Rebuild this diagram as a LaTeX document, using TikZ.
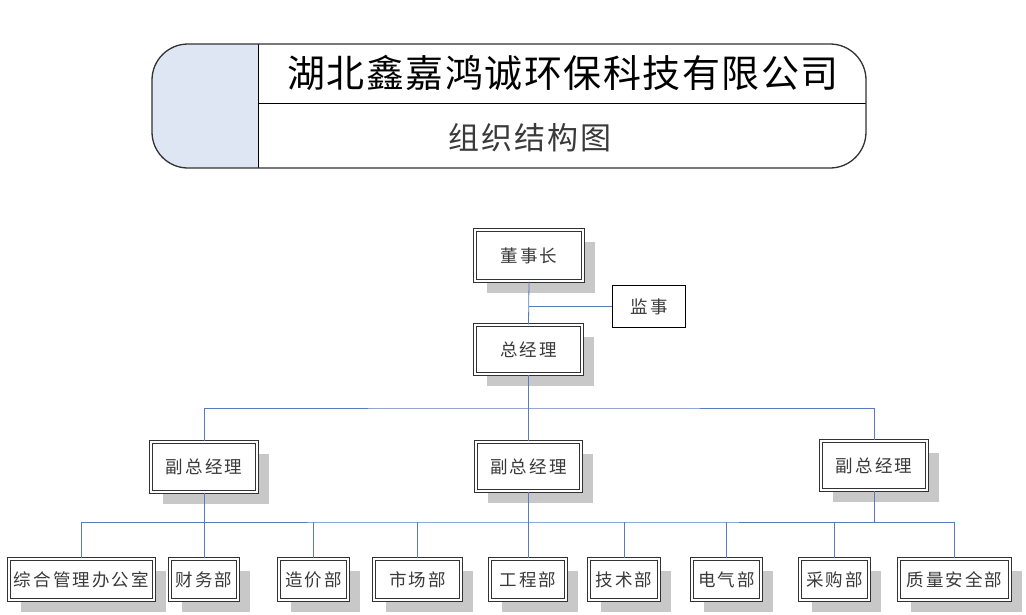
\documentclass[tikz,border=0pt]{standalone}
\usepackage{fontspec}
\newfontfamily\cjk[LetterSpace=12]{Noto Sans CJK SC}
\newfontfamily\cjktitle[LetterSpace=4]{Noto Sans CJK SC}
\newfontfamily\cjksub[LetterSpace=6]{Noto Sans CJK SC}
\usetikzlibrary{shadows}
\definecolor{linkblue}{RGB}{88,122,190}
\definecolor{boxborder}{RGB}{50,50,50}
\definecolor{shadowgray}{RGB}{200,200,200}
\definecolor{paleblue}{RGB}{221,230,242}
\definecolor{textgray}{RGB}{58,58,58}
\begin{document}
\begin{tikzpicture}[x=1pt,y=-1pt,
  box/.style={draw=boxborder, double=white, line width=1.1pt, double distance=1.4pt,
    fill=white, inner sep=0pt, text=textgray,
    font=\fontsize{17.5}{20}\selectfont\cjk,
    drop shadow={shadow xshift=12pt, shadow yshift=-12pt, fill=shadowgray, opacity=1}},
  plain/.style={draw=black, line width=0.9pt, fill=white, inner sep=0pt, text=textgray,
    font=\fontsize{17.5}{20}\selectfont\cjk},
  link/.style={draw=linkblue, line width=0.8pt}
]
\useasboundingbox (0,0) rectangle (1026,614);
\fill[white] (0,0) rectangle (1026,614);

% title panel
\begin{scope}
  \clip[rounded corners=36pt] (152,44) rectangle (866,168);
  \fill[paleblue] (152,44) rectangle (258,168);
\end{scope}
\draw[black, line width=0.8pt] (258,44) -- (258,168);
\draw[black, line width=0.8pt] (258,103) -- (866,103);
\draw[boxborder, line width=1.3pt, rounded corners=36pt] (152,44) rectangle (866,168);
\node[text=black, font=\fontsize{38}{40}\selectfont\cjktitle] (title) at (563,73) {湖北鑫嘉鸿诚环保科技有限公司};
\node[text=textgray, font=\fontsize{31}{34}\selectfont\cjksub] (subtitle) at (530,138) {组织结构图};

% top
\node[box, minimum width=108pt, minimum height=51pt] (chair) at (529,255.5) {董事长};
\node[plain, minimum width=73pt, minimum height=42pt] (sup) at (649,306.5) {监事};
\node[box, minimum width=107pt, minimum height=49pt] (gm) at (528.5,349.5) {总经理};

% vice GMs
\node[box, minimum width=106pt, minimum height=50pt] (vpL) at (204,467) {副总经理};
\node[box, minimum width=105pt, minimum height=49pt] (vpM) at (528.5,466.5) {副总经理};
\node[box, minimum width=106pt, minimum height=49pt] (vpR) at (874,465.5) {副总经理};

% departments
\tikzset{dept/.style={box, minimum height=41pt}}
\node[dept, minimum width=145pt] (d1) at (81.5,579.5) {综合管理办公室};
\node[dept, minimum width=68pt] (d2) at (204,579.5) {财务部};
\node[dept, minimum width=69pt] (d3) at (313.5,579.5) {造价部};
\node[dept, minimum width=87pt] (d4) at (417.5,579.5) {市场部};
\node[dept, minimum width=76pt] (d5) at (528,579.5) {工程部};
\node[dept, minimum width=70pt] (d6) at (624,579.5) {技术部};
\node[dept, minimum width=69pt] (d7) at (726.5,579.5) {电气部};
\node[dept, minimum width=69pt] (d8) at (834.5,579.5) {采购部};
\node[dept, minimum width=111pt] (d9) at (954.5,579.5) {质量安全部};

% connectors
\coordinate (bus1) at (528.5,408);
\coordinate (bus2) at (528,522);
\draw[link] (chair.south) -- (gm.north);
\draw[link] (chair.south |- sup.west) -- (sup.west);
\draw[link] (gm.south) -- (bus1);
\draw[link] (vpL.north) |- (bus1) -| (vpR.north);
\draw[link] (bus1) -- (vpM.north);
\draw[link] (vpL.south) -- (vpL.south |- bus2);
\draw[link] (vpM.south) -- (vpM.south |- bus2);
\draw[link] (vpR.south) -- (vpR.south |- bus2);
\draw[link] (d1.north) |- (bus2) -| (d9.north);
\foreach \d in {d2,d3,d4,d5,d6,d7,d8}{
  \draw[link] (\d.north) -- (\d.north |- bus2);
}
\end{tikzpicture}
\end{document}
